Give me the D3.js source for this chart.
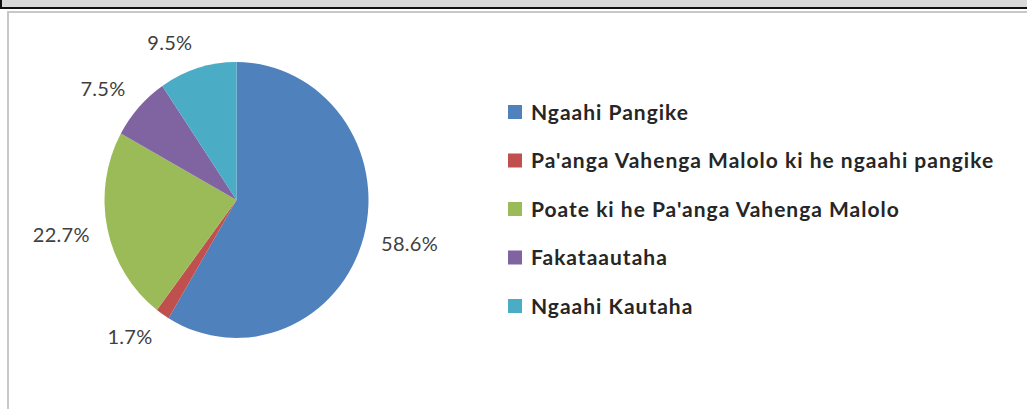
<!DOCTYPE html>
<html>
<head>
<meta charset="utf-8">
<script src="https://cdn.jsdelivr.net/npm/d3@7"></script>
<style>
  body { margin: 0; background: #fff; }
  svg { display: block; }
</style>
</head>
<body>
<script>
const categories = ['Ngaahi Pangike', "Pa'anga Vahenga Malolo ki he ngaahi pangike", "Poate ki he Pa'anga Vahenga Malolo", 'Fakataautaha', 'Ngaahi Kautaha'];
const shares = [58.6, 1.7, 22.7, 7.5, 9.5];
const colours = ['#4f81bd', '#c0504d', '#9bbb59', '#8064a2', '#4bacc6'];

const width = 1027, height = 409;
const svg = d3.select('body').append('svg')
    .attr('width', width)
    .attr('height', height);

// window frame bits
svg.append('rect').attr('x', 0).attr('y', 0).attr('width', width).attr('height', 7).attr('fill', '#d9d9d9');
svg.append('rect').attr('x', 0).attr('y', 7).attr('width', width).attr('height', 2).attr('fill', '#111');
svg.append('rect').attr('x', 0).attr('y', 0).attr('width', 2).attr('height', 9).attr('fill', '#111');
svg.append('rect').attr('x', 7).attr('y', 11).attr('width', width - 7).attr('height', 2).attr('fill', '#c8c8c8');
svg.append('rect').attr('x', 7).attr('y', 11).attr('width', 2).attr('height', height - 11).attr('fill', '#c8c8c8');

const data = categories.map((c, i) => ({name: c, value: shares[i], colour: colours[i]}));

const pie = d3.pie().value(d => d.value).sort(null);
const arcs = pie(data);
const radius = 132, stretch = 1.045;
const arc = d3.arc().innerRadius(0).outerRadius(radius);
const labelR = 150;

const cx = 236.5, cy = 200;
const g = svg.append('g').attr('transform', `translate(${cx},${cy})`);

g.append('g').attr('transform', `scale(1,${stretch})`)
    .selectAll('path')
    .data(arcs)
    .enter().append('path')
    .attr('d', arc)
    .attr('fill', d => d.data.colour);

// labels sit just outside the pie, pushed away from it by half their box
const labels = g.selectAll('text')
    .data(arcs)
    .enter().append('text')
    .attr('text-anchor', 'middle')
    .attr('dy', '0.36em')
    .style('font-family', 'Lato, sans-serif')
    .style('font-size', '20px')
    .style('letter-spacing', '0.3px')
    .style('fill', '#404040')
    .text(d => d.data.value.toFixed(1) + '%');

labels.each(function(d) {
    const box = this.getBBox();
    const a = (d.startAngle + d.endAngle) / 2;
    const px = labelR * Math.sin(a), py = -labelR * Math.cos(a) * stretch;
    d3.select(this)
        .attr('x', px + Math.sign(Math.sin(a)) * box.width / 2)
        .attr('y', py - Math.cos(a) * 8);
});

// legend
const legendY = d3.scalePoint().domain(categories).range([112, 306]);
const legend = svg.append('g')
    .selectAll('g')
    .data(data)
    .enter().append('g')
    .attr('transform', d => `translate(508,${legendY(d.name)})`);

legend.append('rect')
    .attr('x', 0).attr('y', -7)
    .attr('width', 14).attr('height', 14)
    .attr('fill', d => d.colour);

legend.append('text')
    .attr('x', 23)
    .attr('dy', '0.36em')
    .style('font-family', 'Lato, sans-serif')
    .style('font-weight', 'bold')
    .style('font-size', '21px')
    .style('letter-spacing', '1px')
    .style('fill', '#262626')
    .text(d => d.name);
</script>
</body>
</html>
